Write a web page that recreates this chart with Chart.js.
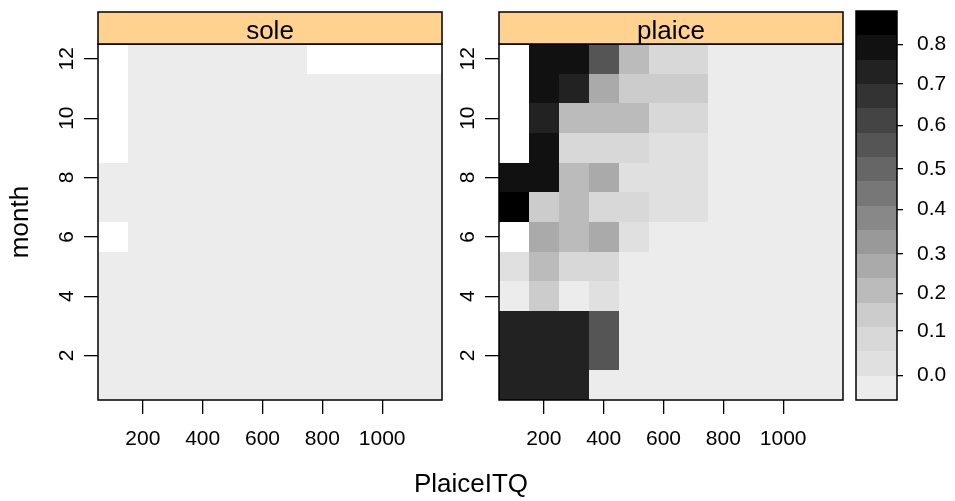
<!DOCTYPE html>
<html lang="en">
<head>
<meta charset="UTF-8">
<title>PlaiceITQ by month</title>
<script src="https://cdn.jsdelivr.net/npm/chart.js@4.4.0/dist/chart.umd.min.js"></script>
<style>
  body { margin: 0; background: #fff; width: 955px; height: 501px; position: relative; overflow: hidden;
         font-family: 'Liberation Sans', Arial, sans-serif; }
  canvas { position: absolute; top: 0; }
  #sole { left: 0; }
  #plaice { left: 430px; }
  #key { left: 845px; }
  #xtitle { position: absolute; left: 371px; width: 200px; top: 468px; text-align: center;
            font-size: 26px; line-height: 30px; color: #000; }
</style>
</head>
<body>
<canvas id="sole" width="470" height="501"></canvas>
<canvas id="plaice" width="430" height="501"></canvas>
<canvas id="key" width="110" height="501"></canvas>
<div id="xtitle">PlaiceITQ</div>
<script>
// PlaiceITQ bins (edges) and months
const itqEdges = [50, 150, 250, 350, 450, 550, 650, 750, 850, 950, 1050, 1200];
const months = [1, 2, 3, 4, 5, 6, 7, 8, 9, 10, 11, 12];
const itqTicks = [200, 400, 600, 800, 1000];
const monthTicks = [2, 4, 6, 8, 10, 12];

// one row per month, one value per PlaiceITQ bin, null = no data
const sole = [
  [0, 0, 0, 0, 0, 0, 0, 0, 0, 0, 0],
  [0, 0, 0, 0, 0, 0, 0, 0, 0, 0, 0],
  [0, 0, 0, 0, 0, 0, 0, 0, 0, 0, 0],
  [0, 0, 0, 0, 0, 0, 0, 0, 0, 0, 0],
  [0, 0, 0, 0, 0, 0, 0, 0, 0, 0, 0],
  [null, 0, 0, 0, 0, 0, 0, 0, 0, 0, 0],
  [0, 0, 0, 0, 0, 0, 0, 0, 0, 0, 0],
  [0, 0, 0, 0, 0, 0, 0, 0, 0, 0, 0],
  [null, 0, 0, 0, 0, 0, 0, 0, 0, 0, 0],
  [null, 0, 0, 0, 0, 0, 0, 0, 0, 0, 0],
  [null, 0, 0, 0, 0, 0, 0, 0, 0, 0, 0],
  [null, 0, 0, 0, 0, 0, 0, null, null, null, null]
];
const plaice = [
  [0.73, 0.73, 0.73, 0, 0, 0, 0, 0, 0, 0, 0],
  [0.73, 0.73, 0.73, 0.56, 0, 0, 0, 0, 0, 0, 0],
  [0.73, 0.73, 0.73, 0.56, 0, 0, 0, 0, 0, 0, 0],
  [0, 0.14, 0, 0.03, 0, 0, 0, 0, 0, 0, 0],
  [0.03, 0.21, 0.08, 0.08, 0, 0, 0, 0, 0, 0, 0],
  [null, 0.28, 0.21, 0.28, 0.03, 0, 0, 0, 0, 0, 0],
  [0.87, 0.14, 0.21, 0.08, 0.08, 0.03, 0.03, 0, 0, 0, 0],
  [0.8, 0.8, 0.21, 0.28, 0.03, 0.03, 0.03, 0, 0, 0, 0],
  [null, 0.8, 0.08, 0.08, 0.08, 0.03, 0.03, 0, 0, 0, 0],
  [null, 0.73, 0.21, 0.21, 0.21, 0.08, 0.08, 0, 0, 0, 0],
  [null, 0.8, 0.73, 0.28, 0.14, 0.14, 0.14, 0, 0, 0, 0],
  [null, 0.8, 0.8, 0.56, 0.21, 0.08, 0.08, 0, 0, 0, 0]
];

// colour key
const keyBreaks = [-0.05, 0, 0.05, 0.11, 0.17, 0.25, 0.3, 0.35, 0.41, 0.47, 0.53, 0.58, 0.65, 0.7, 0.75, 0.83, 0.9];
const keyColors = ['#ececec', '#e0e0e0', '#d8d8d8', '#cccccc', '#bbbbbb', '#aaaaaa', '#999999', '#888888',
                   '#777777', '#666666', '#555555', '#444444', '#333333', '#222222', '#111111', '#000000'];
const keyTicks = [0, 0.1, 0.2, 0.3, 0.4, 0.5, 0.6, 0.7, 0.8];

Chart.defaults.font.family = "'Liberation Sans', Arial, sans-serif";
Chart.defaults.color = '#000';

function levelOf(v) {
  for (let i = 0; i < keyColors.length; i++) {
    if (v <= keyBreaks[i + 1]) return i;
  }
  return keyColors.length - 1;
}

// position of a value on the equispaced key
function keyPos(v) {
  for (let i = 0; i < keyColors.length; i++) {
    const a = keyBreaks[i], b = keyBreaks[i + 1];
    if (v >= a && v <= b) return i + (v - a) / (b - a);
  }
  return keyColors.length;
}

const tickFont = { size: 21 };
const blackTicks = { drawOnChartArea: false, drawTicks: true, tickLength: 14, color: '#000', lineWidth: 1.3 };

function makePanel(id, label, grid, yWidth, rightPad, showTitle) {
  const panelPlugin = {
    id: 'panel_' + id,
    beforeDatasetsDraw(chart) {
      const { ctx, scales: { x, y } } = chart;
      ctx.save();
      grid.forEach((row, r) => {
        row.forEach((v, c) => {
          if (v === null) return;
          const x0 = Math.round(x.getPixelForValue(itqEdges[c]));
          const x1 = Math.round(x.getPixelForValue(itqEdges[c + 1]));
          const y0 = Math.round(y.getPixelForValue(months[r] + 0.5));
          const y1 = Math.round(y.getPixelForValue(months[r] - 0.5));
          ctx.fillStyle = keyColors[levelOf(v)];
          ctx.fillRect(x0, y0, x1 - x0, y1 - y0);
        });
      });
      ctx.restore();
    },
    afterDraw(chart) {
      const { ctx, chartArea: a } = chart;
      ctx.save();
      ctx.lineWidth = 1.5;
      ctx.strokeStyle = '#000';
      ctx.strokeRect(a.left, a.top, a.right - a.left, a.bottom - a.top);
      // strip
      ctx.fillStyle = '#ffd28f';
      ctx.fillRect(a.left, 12, a.right - a.left, a.top - 12);
      ctx.strokeRect(a.left, 12, a.right - a.left, a.top - 12);
      ctx.fillStyle = '#000';
      ctx.font = "26px 'Liberation Sans', Arial, sans-serif";
      ctx.textAlign = 'center';
      ctx.textBaseline = 'alphabetic';
      ctx.fillText(label, (a.left + a.right) / 2, 39);
      ctx.restore();
    }
  };

  new Chart(document.getElementById(id), {
    type: 'scatter',
    data: { datasets: [] },
    options: {
      responsive: false,
      animation: false,
      events: [],
      layout: { padding: { top: 44, right: rightPad, bottom: 41, left: 0 } },
      plugins: { legend: { display: false }, tooltip: { enabled: false } },
      scales: {
        x: {
          type: 'linear', min: 50, max: 1200,
          afterBuildTicks: s => { s.ticks = itqTicks.map(v => ({ value: v })); },
          afterFit: s => { s.height = 60; },
          border: { display: false },
          grid: blackTicks,
          ticks: { font: tickFont, padding: 13, autoSkip: false, maxRotation: 0, callback: v => String(v) }
        },
        y: {
          type: 'linear', min: 0.5, max: 12.5,
          afterBuildTicks: s => { s.ticks = monthTicks.map(v => ({ value: v })); },
          afterFit: s => { s.width = yWidth; },
          border: { display: false },
          grid: blackTicks,
          title: { display: showTitle, text: 'month', font: { size: 26 }, padding: { top: 5, bottom: 0 } },
          ticks: { font: tickFont, padding: 5, autoSkip: false, minRotation: 90, maxRotation: 90,
                   crossAlign: 'center', callback: v => String(v) }
        }
      }
    },
    plugins: [panelPlugin]
  });
}

makePanel('sole', 'sole', sole, 98, 28, true);
makePanel('plaice', 'plaice', plaice, 69, 17, false);

// colour key
const keyPlugin = {
  id: 'keyBar',
  beforeDatasetsDraw(chart) {
    const { ctx, chartArea: a, scales: { y } } = chart;
    ctx.save();
    keyColors.forEach((col, i) => {
      const y0 = Math.round(y.getPixelForValue(i + 1));
      const y1 = Math.round(y.getPixelForValue(i));
      ctx.fillStyle = col;
      ctx.fillRect(a.left, y0, a.right - a.left, y1 - y0);
    });
    ctx.lineWidth = 1.5;
    ctx.strokeStyle = '#000';
    ctx.strokeRect(a.left, a.top, a.right - a.left, a.bottom - a.top);
    ctx.restore();
  }
};

new Chart(document.getElementById('key'), {
  type: 'scatter',
  data: { datasets: [] },
  options: {
    responsive: false,
    animation: false,
    events: [],
    layout: { padding: { top: 11, right: 0, bottom: 101, left: 11 } },
    plugins: { legend: { display: false }, tooltip: { enabled: false } },
    scales: {
      x: { type: 'linear', min: 0, max: 1, display: false },
      y: {
        type: 'linear', position: 'right', min: 0, max: keyColors.length,
        afterBuildTicks: s => { s.ticks = keyTicks.map(v => ({ value: keyPos(v) })); },
        afterFit: s => { s.width = 58; s.paddingTop = 0; s.paddingBottom = 0; },
        border: { display: false },
        grid: { drawOnChartArea: false, drawTicks: true, tickLength: 6, color: '#000', lineWidth: 1.3 },
        ticks: { font: tickFont, padding: 14, autoSkip: false, callback: (v, i) => keyTicks[i].toFixed(1) }
      }
    }
  },
  plugins: [keyPlugin]
});
</script>
</body>
</html>
